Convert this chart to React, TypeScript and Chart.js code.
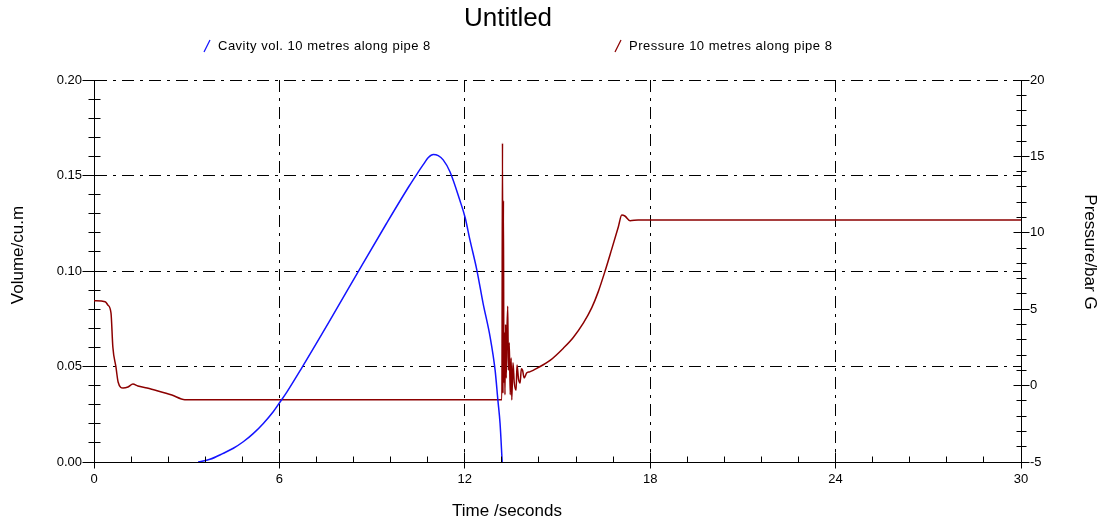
import React, { useEffect, useRef } from 'react';
import { Chart, registerables } from 'chart.js';

Chart.register(...registerables);

const chartTitle = 'Untitled';
const cavityLabel = 'Cavity vol. 10 metres along pipe 8';
const pressureLabel = 'Pressure 10 metres along pipe 8';
const xTitle = 'Time /seconds';
const yLeftTitle = 'Volume/cu.m';
const yRightTitle = 'Pressure/bar G';

const xTickValues = [0, 6, 12, 18, 24, 30];
const leftTickValues = [0, 0.05, 0.1, 0.15, 0.2];
const rightTickValues = [-5, 0, 5, 10, 15, 20];

const cavityTime = [
  3.37, 3.75, 4.19, 4.51, 4.83, 5.16, 5.48, 5.8, 6.02, 6.24, 6.72, 7.64, 8.58, 9.47, 10.2, 10.44, 10.66,
  10.82, 10.98, 11.14, 11.3, 11.52, 11.84, 12.01, 12.17, 12.39, 12.59, 12.82, 12.98, 13.07, 13.14, 13.21,
];
const cavityVolume = [
  0, 0.0014, 0.0046, 0.0072, 0.0106, 0.015, 0.0202, 0.0263, 0.0314, 0.0366, 0.0492, 0.0743, 0.1005, 0.125,
  0.1445, 0.1505, 0.1558, 0.1594, 0.161, 0.1604, 0.1582, 0.152, 0.137, 0.128, 0.116, 0.1005, 0.0832, 0.0654,
  0.0482, 0.0325, 0.0204, 0,
];

const pressureTime = [
  0, 0.36, 0.45, 0.55, 0.61, 0.71, 0.78, 0.94, 1.1, 1.26, 1.42, 1.72, 2.07, 2.52, 2.94, 13.2, 13.22,
  13.235, 13.25, 13.265, 13.28, 13.3, 13.32, 13.34, 13.36, 13.39, 13.41, 13.44, 13.47, 13.5, 13.52, 13.56,
  13.6, 13.66, 13.69, 13.74, 13.79, 13.83, 13.87, 13.92, 14.0, 14.1, 14.21, 14.33, 14.76, 15.19, 15.51,
  15.84, 16.11, 16.32, 16.54, 16.75, 16.97, 17.08, 17.18, 17.35, 17.61, 30,
];
const pressureValue = [
  5.56, 5.49, 5.27, 4.75, 2.53, 1.22, 0.24, -0.16, -0.09, 0.1, -0.03, -0.16, -0.35, -0.62, -0.92, -0.92,
  15.86, -0.5, 12.1, 0.2, 3.5, -0.6, 4.0, 0.5, 3.2, 5.2, 1.0, 2.8, -0.6, 1.8, -0.94, 1.5, 0.2, -0.3, 1.35,
  0.4, 0.17, 1.1, 1.0, 0.5, 0.82, 0.9, 1.0, 1.13, 1.65, 2.45, 3.15, 4.1, 5.1, 6.15, 7.5, 8.9, 10.4,
  11.16, 11.1, 10.79, 10.84, 10.84,
];

const FONT = "'Liberation Sans', Arial, sans-serif";
const BLUE = 'rgb(20,20,255)';
const RED = 'rgb(140,0,0)';
const GRID_DASH = [12, 6, 3, 6];

const decorPlugin = {
  id: 'decor',
  afterDraw(chart: any) {
    const { ctx, chartArea } = chart;
    const sx = chart.scales.x;
    const sl = chart.scales.yL;
    const sr = chart.scales.yR;
    const al = (p: number) => Math.round(p - 0.5) + 0.5;
    ctx.save();
    ctx.strokeStyle = '#000';
    ctx.lineWidth = 1;
    ctx.setLineDash([]);
    ctx.beginPath();
    // bottom axis ticks
    const yb = al(chartArea.bottom);
    for (let k = 0; k <= 25; k++) {
      const v = k * 1.2;
      const px = al(sx.getPixelForValue(v));
      if (k % 5 === 0) {
        ctx.moveTo(px, yb - 10);
        ctx.lineTo(px, yb + 6);
      } else {
        ctx.moveTo(px, yb - 6);
        ctx.lineTo(px, yb);
      }
    }
    // left axis ticks
    const xl = al(chartArea.left);
    for (let k = 0; k <= 20; k++) {
      const v = k * 0.01;
      const py = al(sl.getPixelForValue(v));
      if (k % 5 === 0) {
        ctx.moveTo(xl - 12, py);
        ctx.lineTo(xl + 4, py);
      } else {
        ctx.moveTo(xl - 6, py);
        ctx.lineTo(xl + 6, py);
      }
    }
    // right axis ticks
    const xr = al(chartArea.right);
    for (let k = 0; k <= 25; k++) {
      const v = -5 + k;
      const py = al(sr.getPixelForValue(v));
      if (k % 5 === 0) {
        ctx.moveTo(xr - 8, py);
        ctx.lineTo(xr + 8, py);
      } else {
        ctx.moveTo(xr - 5, py);
        ctx.lineTo(xr + 5, py);
      }
    }
    ctx.stroke();

    // texts
    ctx.fillStyle = '#000';
    ctx.textAlign = 'center';
    ctx.textBaseline = 'middle';
    ctx.font = `26px ${FONT}`;
    ctx.fillText(chartTitle, 508, 19);

    ctx.font = `17px ${FONT}`;
    ctx.fillText(xTitle, 507, 511);
    ctx.save();
    ctx.translate(18, 255);
    ctx.rotate(-Math.PI / 2);
    ctx.fillText(yLeftTitle, 0, 0);
    ctx.restore();
    ctx.save();
    ctx.translate(1090, 252);
    ctx.rotate(Math.PI / 2);
    ctx.fillText(yRightTitle, 0, 0);
    ctx.restore();

    // legend
    const items = [
      { x: 204, text: chart.data.datasets[0].label, color: chart.data.datasets[0].borderColor },
      { x: 615, text: chart.data.datasets[1].label, color: chart.data.datasets[1].borderColor },
    ];
    ctx.font = `13px ${FONT}`;
    (ctx as any).letterSpacing = '0.5px';
    ctx.textAlign = 'left';
    for (const it of items) {
      ctx.strokeStyle = it.color;
      ctx.lineWidth = 1.2;
      ctx.beginPath();
      ctx.moveTo(it.x, 52);
      ctx.lineTo(it.x + 6, 40);
      ctx.stroke();
      ctx.fillText(it.text, it.x + 14, 46);
    }
    ctx.restore();
  },
};

export default function App() {
  const ref = useRef<HTMLCanvasElement | null>(null);
  useEffect(() => {
    if (!ref.current) return;
    const cavityData = cavityTime.map((t, i) => ({ x: t, y: cavityVolume[i] }));
    const pressureData = pressureTime.map((t, i) => ({ x: t, y: pressureValue[i] }));
    const tickFont = { family: FONT, size: 13 };
    const chart = new Chart(ref.current, {
      type: 'line',
      data: {
        datasets: [
          {
            label: cavityLabel,
            data: cavityData,
            yAxisID: 'yL',
            borderColor: BLUE,
            borderWidth: 1.5,
            pointRadius: 0,
            cubicInterpolationMode: 'monotone',
          },
          {
            label: pressureLabel,
            data: pressureData,
            yAxisID: 'yR',
            borderColor: RED,
            borderWidth: 1.5,
            pointRadius: 0,
            cubicInterpolationMode: 'monotone',
          },
        ],
      },
      options: {
        animation: false,
        responsive: false,
        maintainAspectRatio: false,
        parsing: false,
        layout: { padding: { top: 80, left: 0, right: 0, bottom: 0 } },
        plugins: {
          legend: { display: false },
          title: { display: false },
          tooltip: { enabled: false },
        },
        scales: {
          x: {
            type: 'linear',
            min: 0,
            max: 30,
            afterBuildTicks: (s: any) => {
              s.ticks = xTickValues.map((v) => ({ value: v }));
            },
            afterFit: (s: any) => {
              s.height = 63;
            },
            ticks: {
              color: '#000',
              font: tickFont,
              padding: 10,
              maxRotation: 0,
              callback: (v: any) => String(v),
            },
            grid: { color: '#000', lineWidth: 1, drawTicks: false, drawOnChartArea: true },
            border: { display: true, color: '#000', width: 1, dash: GRID_DASH },
          },
          yL: {
            type: 'linear',
            position: 'left',
            min: 0,
            max: 0.2,
            afterBuildTicks: (s: any) => {
              s.ticks = leftTickValues.map((v) => ({ value: v }));
            },
            afterFit: (s: any) => {
              s.width = 94;
            },
            ticks: {
              color: '#000',
              font: tickFont,
              padding: 12,
              callback: (v: any) => Number(v).toFixed(2),
            },
            grid: { color: '#000', lineWidth: 1, drawTicks: false, drawOnChartArea: true },
            border: { display: true, color: '#000', width: 1, dash: GRID_DASH },
          },
          yR: {
            type: 'linear',
            position: 'right',
            min: -5,
            max: 20,
            afterBuildTicks: (s: any) => {
              s.ticks = rightTickValues.map((v) => ({ value: v }));
            },
            afterFit: (s: any) => {
              s.width = 87;
            },
            ticks: {
              color: '#000',
              font: tickFont,
              padding: 9,
              callback: (v: any) => String(v),
            },
            grid: { drawTicks: false, drawOnChartArea: false },
            border: { display: true, color: '#000', width: 1 },
          },
        },
      } as any,
      plugins: [decorPlugin],
    });
    return () => chart.destroy();
  }, []);
  return (
    <div style={{ position: 'absolute', left: 0, top: 0, width: 1108, height: 525, background: '#fff' }}>
      <canvas ref={ref} width={1108} height={525} style={{ display: 'block' }} />
    </div>
  );
}
